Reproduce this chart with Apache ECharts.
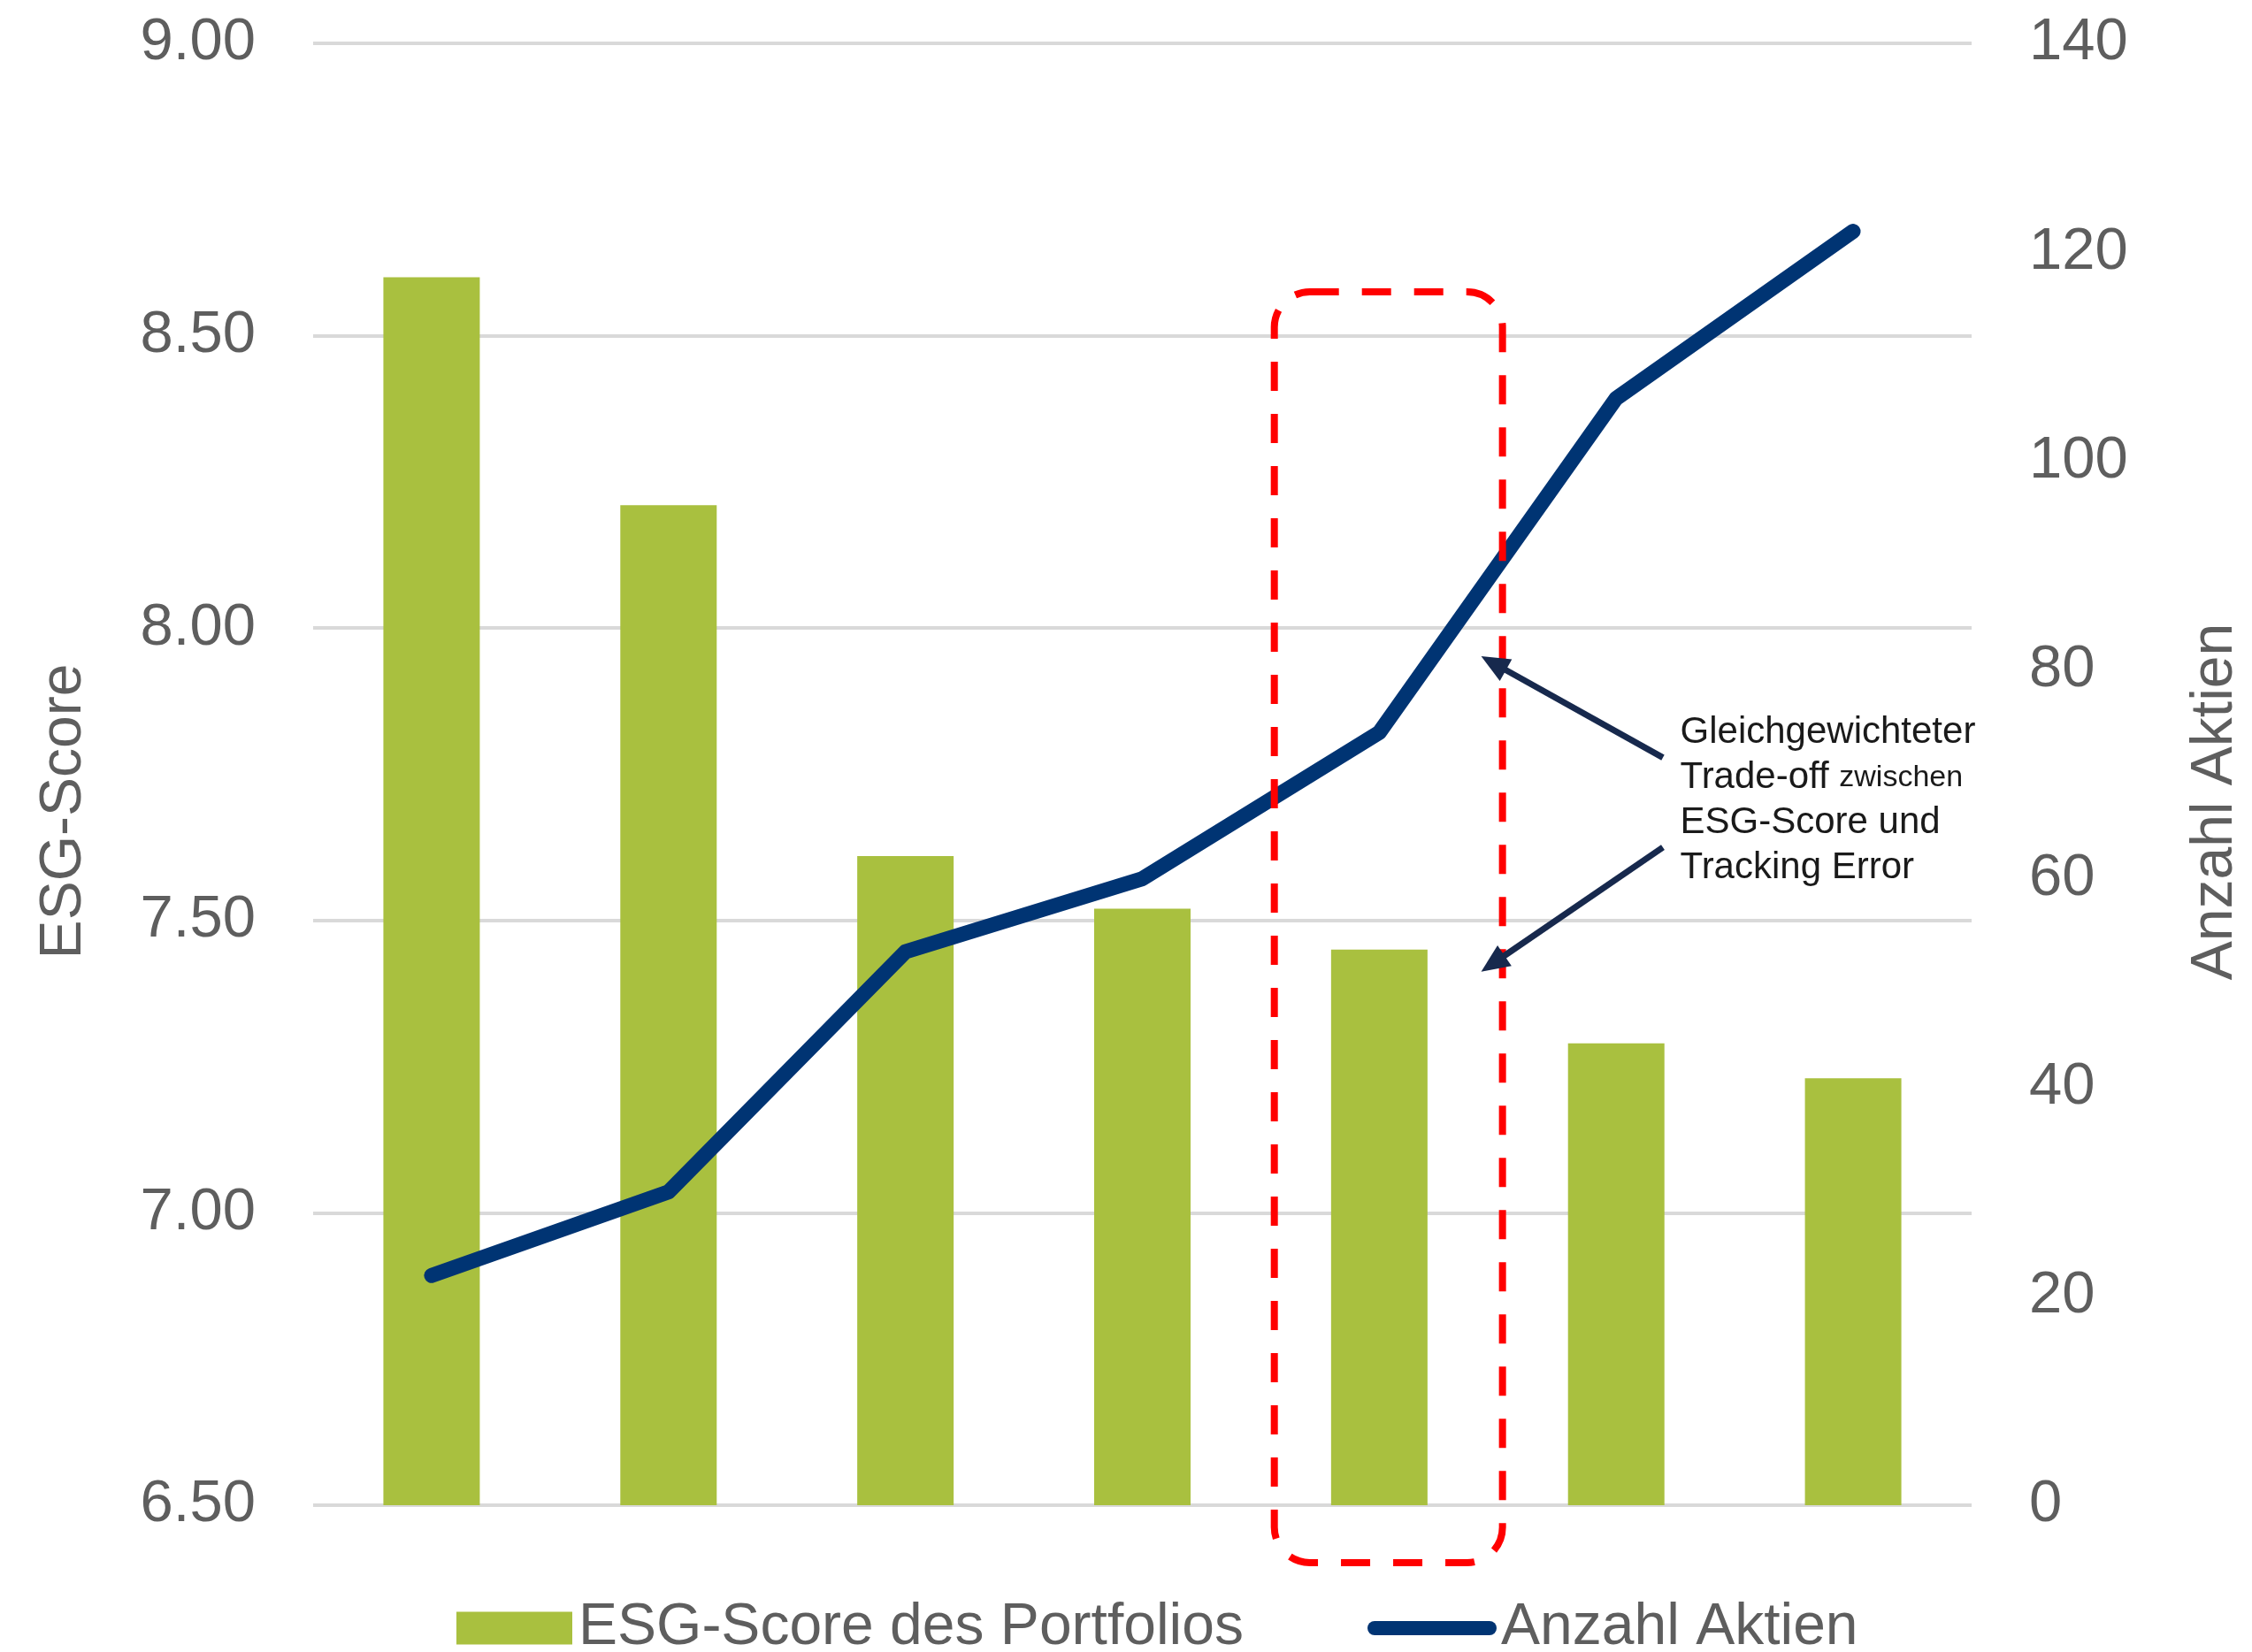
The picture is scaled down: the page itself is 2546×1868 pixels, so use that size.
<!DOCTYPE html>
<html>
<head>
<meta charset="utf-8">
<style>
  html, body { margin: 0; padding: 0; background: #ffffff; }
  #chart { width: 2546px; height: 1868px; }
</style>
<script src="https://cdn.jsdelivr.net/npm/echarts@6/dist/echarts.min.js"></script>
</head>
<body>
<div id="chart"></div>
<script>
// ---- data ----
const categories = ['1', '2', '3', '4', '5', '6', '7'];
const esgScore = [8.60, 8.21, 7.61, 7.52, 7.45, 7.29, 7.23];
const anzahlAktien = [22, 30, 53, 60, 74, 106, 122];
const leftAxisTicks = { min: 6.5, max: 9.0, interval: 0.5 };
const rightAxisTicks = { min: 0, max: 140, interval: 20 };
const seriesNames = ['ESG-Score des Portfolios', 'Anzahl Aktien'];
const axisNames = ['ESG-Score', 'Anzahl Aktien'];
const annotationLines = ['Gleichgewichteter', 'Trade-off', 'zwischen', 'ESG-Score und', 'Tracking Error'];

const FONT = '"Liberation Sans", Arial, sans-serif';
const GREY = '#5e5e5e';
const GREEN = '#A9C03F';
const NAVY = '#003473';

const chart = echarts.init(document.getElementById('chart'));

const option = {
  backgroundColor: '#ffffff',
  animation: false,
  textStyle: { fontFamily: FONT },
  grid: { left: 354, right: 313, top: 49, bottom: 166, containLabel: false },
  legend: [
    {
      data: [{ name: seriesNames[0], icon: 'rect' }],
      left: 511, top: 1803,
      itemWidth: 131, itemHeight: 37,
      itemGap: 0,
      textStyle: { fontSize: 66, color: GREY, fontFamily: FONT, padding: [0, 0, 0, 2] },
      selectedMode: false
    },
    {
      data: [{
        name: seriesNames[1],
        icon: 'path://M8,0 L138,0 A8,8 0 0 1 138,16 L8,16 A8,8 0 0 1 8,0 Z',
        itemStyle: { color: NAVY, borderWidth: 0 }
      }],
      left: 1541, top: 1803,
      itemWidth: 146, itemHeight: 16,
      itemGap: 0,
      textStyle: { fontSize: 66, color: GREY, fontFamily: FONT },
      selectedMode: false
    }
  ],
  xAxis: {
    type: 'category',
    data: categories,
    axisLine: { show: false },
    axisTick: { show: false },
    axisLabel: { show: false },
    splitLine: { show: false }
  },
  yAxis: [
    {
      type: 'value',
      position: 'left',
      min: leftAxisTicks.min, max: leftAxisTicks.max, interval: leftAxisTicks.interval,
      name: axisNames[0],
      nameLocation: 'middle',
      nameRotate: 90,
      nameGap: 248,
      nameTextStyle: { fontSize: 66, color: GREY, fontFamily: FONT, padding: [0, 84, 0, 0] },
      axisLine: { show: false },
      axisTick: { show: false },
      axisLabel: {
        fontSize: 67, color: GREY, fontFamily: FONT, margin: 65,
        formatter: v => v.toFixed(2)
      },
      splitLine: { show: true, lineStyle: { color: '#d9d9d9', width: 4 } }
    },
    {
      type: 'value',
      position: 'right',
      min: rightAxisTicks.min, max: rightAxisTicks.max, interval: rightAxisTicks.interval,
      name: axisNames[1],
      nameLocation: 'middle',
      nameRotate: 90,
      nameGap: 243,
      nameTextStyle: { fontSize: 66, color: GREY, fontFamily: FONT, padding: [0, 62, 0, 0] },
      axisLine: { show: false },
      axisTick: { show: false },
      axisLabel: { fontSize: 67, color: GREY, fontFamily: FONT, margin: 65 },
      splitLine: { show: false }
    }
  ],
  series: [
    {
      name: seriesNames[0],
      type: 'bar',
      yAxisIndex: 0,
      data: esgScore,
      barWidth: 109,
      itemStyle: { color: GREEN },
      z: 2
    },
    {
      name: seriesNames[1],
      type: 'line',
      yAxisIndex: 1,
      data: anzahlAktien,
      showSymbol: false,
      symbol: 'none',
      lineStyle: { color: NAVY, width: 17, cap: 'round', join: 'round' },
      itemStyle: { color: NAVY },
      z: 3
    }
  ]
};

chart.setOption(option);

// ---- annotation anchored to the axes ----
const cx = c => chart.convertToPixel({ xAxisIndex: 0 }, c);
const yL = v => chart.convertToPixel({ yAxisIndex: 0 }, v);
const yR = v => chart.convertToPixel({ yAxisIndex: 1 }, v);

const c4 = cx(categories[4]);
const cw = cx(categories[4]) - cx(categories[3]);

function arrow(tail, tip, color) {
  const dx = tip[0] - tail[0], dy = tip[1] - tail[1];
  const len = Math.sqrt(dx * dx + dy * dy);
  const ux = dx / len, uy = dy / len;
  const nx = -uy, ny = ux;
  const L = 32, W = 14;
  const bx = tip[0] - L * ux, by = tip[1] - L * uy;
  return [
    {
      type: 'line', z: 100,
      shape: { x1: tail[0], y1: tail[1], x2: tip[0] - L * 0.7 * ux, y2: tip[1] - L * 0.7 * uy },
      style: { stroke: color, lineWidth: 7 }
    },
    {
      type: 'polygon', z: 100,
      shape: { points: [tip, [bx + W * nx, by + W * ny], [bx - W * nx, by - W * ny]] },
      style: { fill: color }
    }
  ];
}

const boxTop = yL(8.575);
const boxBottom = yL(leftAxisTicks.min) + 65;
const ARROW = '#17294d';
const ANNOT_FONT = '"Liberation Sans", Arial, sans-serif';

const graphics = [
  {
    type: 'rect', z: 90,
    shape: { x: c4 - 0.443 * cw, y: boxTop, width: 0.963 * cw, height: boxBottom - boxTop, r: 40 },
    style: { fill: 'none', stroke: '#ff0000', lineWidth: 8, lineDash: [33, 26] }
  },
  ...arrow([c4 + 1.197 * cw, yR(71.6)], [c4 + 0.43 * cw, yR(81.3)], ARROW),
  ...arrow([c4 + 1.197 * cw, yR(63.0)], [c4 + 0.43 * cw, yR(51.1)], ARROW),
  {
    type: 'text', z: 100,
    x: c4 + 1.27 * cw,
    y: yR(74.0) - 25.5,
    style: {
      text: annotationLines[0] + '\n' + annotationLines[1] + ' {z|' + annotationLines[2] + '}\n' +
            annotationLines[3] + '\n' + annotationLines[4],
      fontFamily: ANNOT_FONT,
      fontSize: 42,
      lineHeight: 51,
      fill: '#1a1a1a',
      align: 'left',
      verticalAlign: 'top',
      rich: {
        z: { fontSize: 34, lineHeight: 51, fontFamily: ANNOT_FONT, fill: '#1a1a1a' }
      }
    }
  }
];

chart.setOption({ graphic: graphics });
</script>
</body>
</html>
